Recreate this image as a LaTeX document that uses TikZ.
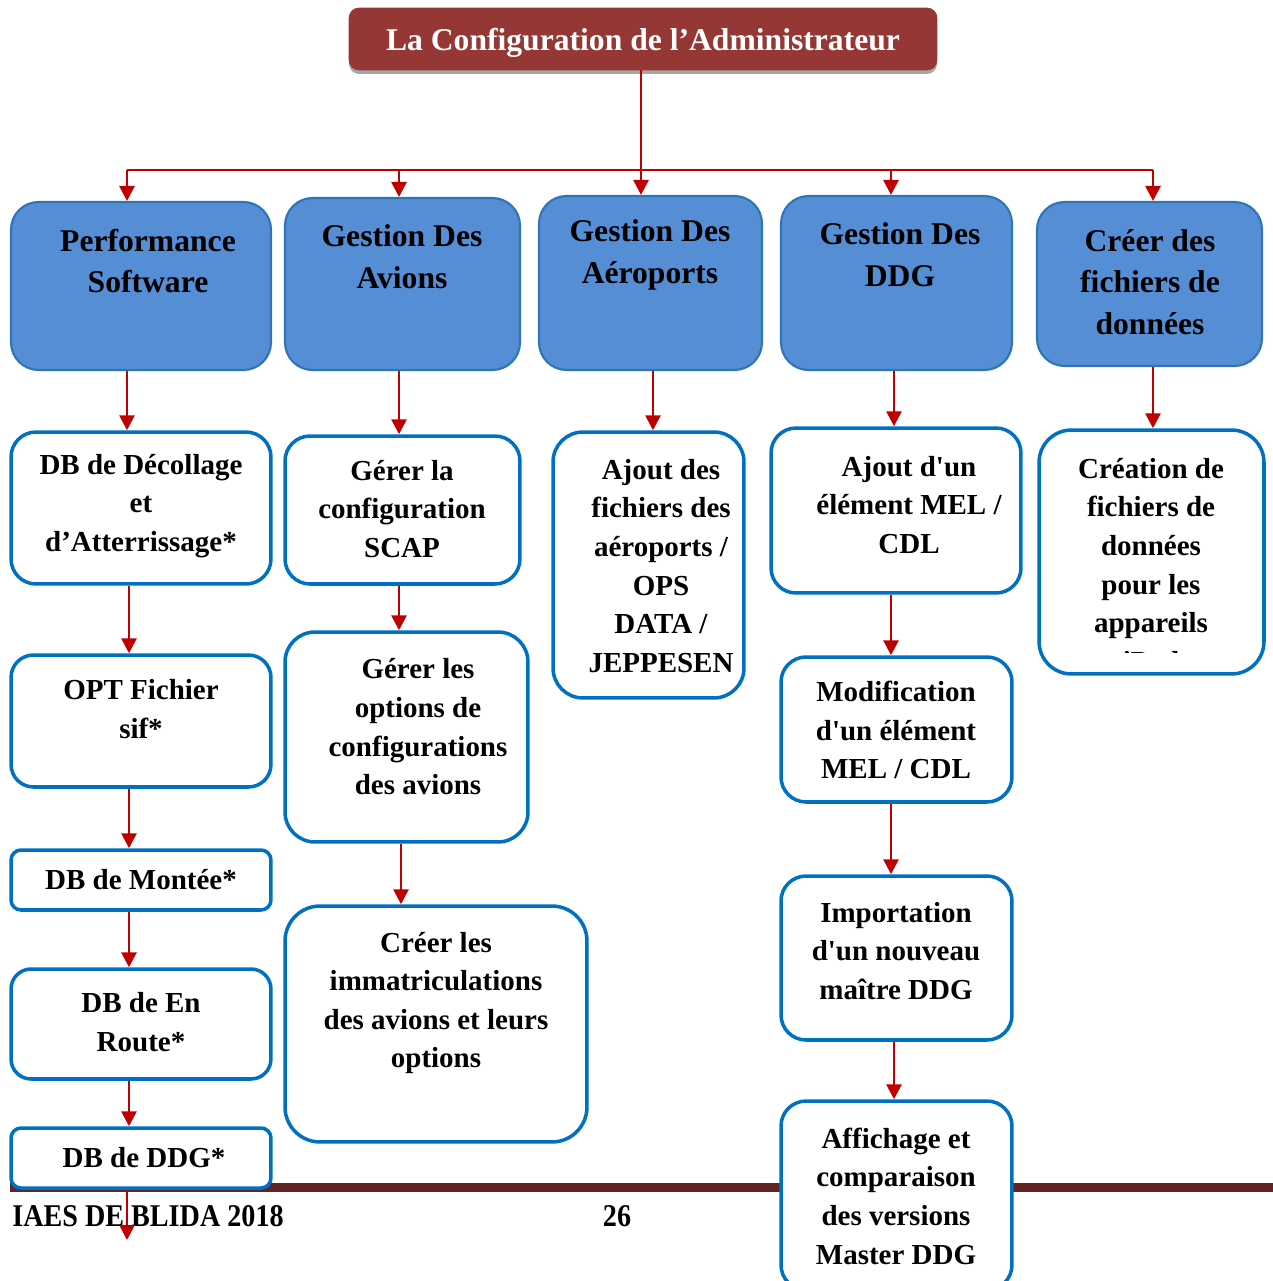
\documentclass[tikz,border=0pt]{standalone}
\usepackage{fontspec}
\setmainfont{Liberation Serif}
\usetikzlibrary{arrows.meta,shadows}
\definecolor{titlered}{HTML}{953735}
\definecolor{boxblue}{HTML}{558ED5}
\definecolor{edgeblue}{HTML}{2E75B6}
\definecolor{lineblue}{HTML}{0070C0}
\definecolor{arrowred}{HTML}{C00000}
\definecolor{bandred}{HTML}{632523}
\begin{document}
\begin{tikzpicture}[x=0.02cm,y=-0.02cm,
  head/.style={draw=titlered, fill=titlered, rounded corners=0.2cm,
    drop shadow={shadow xshift=0cm, shadow yshift=-0.08cm, fill=black!35, opacity=1}},
  topbox/.style={draw=edgeblue, fill=boxblue, line width=1.2pt, rounded corners=0.55cm},
  subbox/.style={draw=lineblue, fill=white, line width=2pt, rounded corners=0.5cm},
  toptext/.style={font=\bfseries\fontsize{18}{23.8}\selectfont, align=center},
  subtext/.style={font=\bfseries\fontsize{16.5}{22}\selectfont, align=center},
  foottext/.style={font=\bfseries\fontsize{18}{22}\selectfont, xscale=0.89, transform shape},
  arr/.style={draw=arrowred, line width=1.6pt, -{Triangle[length=0.3cm,width=0.3cm]}},
  wire/.style={draw=arrowred, line width=1.6pt}]
\useasboundingbox (0,0) rectangle (1273,1281);
\clip (0,0) rectangle (1273,1281);

% footer band
\fill[bandred] (10,1183) rectangle (1273,1192);
\node[foottext] (foot) at (148,1216) {IAES DE BLIDA 2018};
\node[foottext] (page) at (617,1216) {26};

\node[head, minimum width=11.76cm, minimum height=1.24cm, text=white, text height=0.6cm,
  font=\bfseries\fontsize{18}{22}\selectfont] (title) at (643,39) {La Configuration de l’Administrateur};

% first level
\node[topbox, minimum width=5.2cm, minimum height=3.36cm] (perf) at (141,286) {};
\node[toptext] (perf-t) at (148,261) {Performance\\Software};
\node[topbox, minimum width=4.7cm, minimum height=3.44cm] (avi) at (402.5,284) {};
\node[toptext] (avi-t) at (402,257) {Gestion Des\\Avions};
\node[topbox, minimum width=4.46cm, minimum height=3.48cm] (aer) at (650.5,283) {};
\node[toptext] (aer-t) at (650,255) {Gestion Des\\Aéroports};
\node[topbox, minimum width=4.62cm, minimum height=3.48cm] (ddg) at (896.5,283) {};
\node[toptext] (ddg-t) at (900,255) {Gestion Des\\DDG};
\node[topbox, minimum width=4.5cm, minimum height=3.28cm] (creer) at (1149.5,284) {};
\node[toptext] (creer-t) at (1150,282) {Créer des\\fichiers de\\données};

% Performance Software
\node[subbox, minimum width=5.2cm, minimum height=3.04cm] (dec) at (141,508) {};
\node[subtext] (dec-t) at (141,506) {DB de Décollage\\et\\d’Atterrissage*};
\node[subbox, minimum width=5.2cm, minimum height=2.64cm, rounded corners=0.45cm] (opt) at (141,721) {};
\node[subtext] (opt-t) at (141,709) {OPT Fichier\\sif*};
\node[subbox, minimum width=5.2cm, minimum height=1.2cm, rounded corners=0.2cm] (mont) at (141,880) {};
\node[subtext] (mont-t) at (141,880) {DB de Montée*};
\node[subbox, minimum width=5.2cm, minimum height=2.2cm, rounded corners=0.4cm] (route) at (141,1024) {};
\node[subtext] (route-t) at (141,1022) {DB de En\\Route*};
\node[subbox, minimum width=5.2cm, minimum height=1.2cm, rounded corners=0.2cm] (ddgdb) at (141,1158) {};
\node[subtext] (ddgdb-t) at (144,1158) {DB de DDG*};
\coordinate (tail) at (127,1240);

% Gestion Des Avions
\node[subbox, minimum width=4.7cm, minimum height=2.96cm] (scap) at (402.5,510) {};
\node[subtext] (scap-t) at (402,509) {Gérer la\\configuration\\SCAP};
\node[subbox, minimum width=4.86cm, minimum height=4.2cm, rounded corners=0.6cm] (opts) at (406.5,737) {};
\node[subtext] (opts-t) at (418,727) {Gérer les\\options de\\configurations\\des avions};
\node[subbox, minimum width=6.04cm, minimum height=4.72cm, rounded corners=0.7cm] (immat) at (436,1024) {};
\node[subtext] (immat-t) at (436,1003) {Créer les\\immatriculations\\des avions et leurs\\options};

% Gestion Des Aeroports
\node[subbox, minimum width=3.82cm, minimum height=5.32cm, rounded corners=0.6cm] (ajout) at (648.5,565) {};
\node[subtext] (ajout-t) at (661,566) {Ajout des\\fichiers des\\aéroports /\\OPS\\DATA /\\JEPPESEN};

% Gestion Des DDG
\node[subbox, minimum width=5cm, minimum height=3.3cm] (mel) at (896,510.5) {};
\node[subtext] (mel-t) at (909,505) {Ajout d\textquotesingle un\\élément MEL /\\CDL};
\node[subbox, minimum width=4.62cm, minimum height=2.9cm] (modif) at (896.5,729.5) {};
\node[subtext] (modif-t) at (896,730) {Modification\\d\textquotesingle un élément\\MEL / CDL};
\node[subbox, minimum width=4.62cm, minimum height=3.28cm] (import) at (896.5,958) {};
\node[subtext] (import-t) at (896,951) {Importation\\d\textquotesingle un nouveau\\maître DDG};
\node[subbox, minimum width=4.62cm, minimum height=3.78cm] (affich) at (896.5,1195.5) {};
\node[subtext] (affich-t) at (896,1196) {Affichage et\\comparaison\\des versions\\Master DDG};

% Creer des fichiers
\node[subbox, minimum width=4.5cm, minimum height=4.88cm, rounded corners=0.65cm] (creation) at (1151.5,552) {};
\begin{scope}
\clip (1039,430) rectangle (1264,652);
\node[subtext] (creation-t) at (1151,565) {Création de\\fichiers de\\données\\pour les\\appareils\\iPad};
\end{scope}

% links
\coordinate (bus) at (641,170);
\draw[arr] (title.south -| bus) -- (aer.north -| bus);
\draw[wire] (bus -| 127,0) -- (bus -| 1153,0);
\foreach \n/\x in {perf/127, avi/399, ddg/891, creer/1153}
  \draw[arr] (bus -| \x,0) -- (\n.north -| \x,0);
\foreach \a/\b/\x in {perf/dec/127, dec/opt/129, opt/mont/129, mont/route/129, route/ddgdb/129,
  avi/scap/399, scap/opts/399, opts/immat/401, aer/ajout/653,
  ddg/mel/894, mel/modif/891, modif/import/891, import/affich/894, creer/creation/1153}
  \draw[arr] (\a.south -| \x,0) -- (\b.north -| \x,0);
\draw[arr] (ddgdb.south -| tail) -- (tail);
\end{tikzpicture}
\end{document}
